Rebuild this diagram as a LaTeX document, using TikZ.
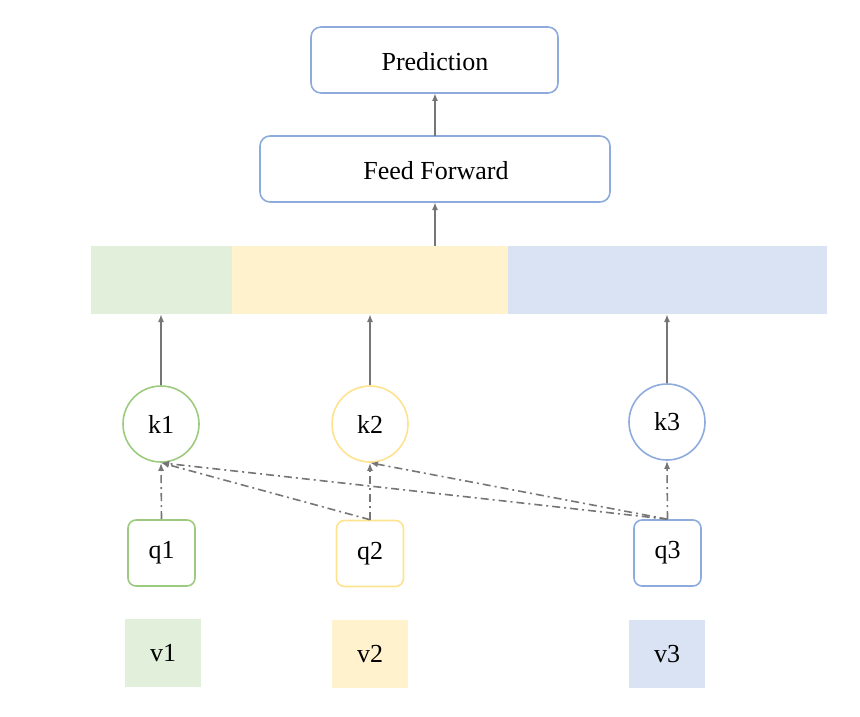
\documentclass[tikz,border=0pt]{standalone}
\usepackage{fontspec}
\setmainfont{Liberation Serif}
\usetikzlibrary{arrows.meta}
\definecolor{gfill}{HTML}{E2EFDA}
\definecolor{yfill}{HTML}{FFF2CC}
\definecolor{bfill}{HTML}{DAE3F3}
\definecolor{gline}{HTML}{9CCB7F}
\definecolor{yline}{HTML}{FFE28F}
\definecolor{bline}{HTML}{8EABDE}
\definecolor{arr}{HTML}{767676}
\begin{document}
\begin{tikzpicture}[x=1pt,y=-1pt,
  txt/.style={font=\fontsize{26}{30}\selectfont, inner sep=0pt},
  rbox/.style={draw=bline, line width=1.6pt, rounded corners=10pt},
  conn/.style={draw=arr, line width=1.6pt, -{Latex[length=8pt,width=6pt]}},
  dconn/.style={draw=arr, line width=1.6pt, dash pattern=on 8pt off 4pt on 2pt off 4pt, -{Latex[length=8pt,width=6pt]}},
  kcirc/.style={circle, line width=1.6pt, minimum size=76pt, inner sep=0pt, font=\fontsize{26}{30}\selectfont},
  qbox/.style={rounded corners=8pt, line width=1.6pt, minimum width=67pt, minimum height=66pt, inner sep=0pt, font=\fontsize{26}{30}\selectfont},
  vbox/.style={minimum width=76pt, minimum height=68pt, inner sep=0pt, font=\fontsize{26}{30}\selectfont}
]
\useasboundingbox (0,0) rectangle (860,717);
% top boxes
\draw[rbox] (311,27) rectangle (558,93);
\node[txt] (pred) at (435,62) {Prediction};
\coordinate (predB) at (435,93);
\draw[rbox] (260,136) rectangle (610,202);
\node[txt] (ff) at (436,171) {Feed Forward};
\coordinate (ffT) at (435,136);
\coordinate (ffB) at (435,202);
% bar
\fill[gfill] (91,246) rectangle (232,314);
\fill[yfill] (232,246) rectangle (508,314);
\fill[bfill] (508,246) rectangle (827,314);
\coordinate (barT) at (435,246);
\coordinate (bar1) at (161,314);
\coordinate (bar2) at (370,314);
\coordinate (bar3) at (667,314);
% k
\node[kcirc, draw=gline] (k1) at (161,424) {k1};
\node[kcirc, draw=yline] (k2) at (370,424) {k2};
\node[kcirc, draw=bline] (k3) at (667,422) {k3};
% q
\node[qbox, draw=gline] (q1) at (161.5,553) {q1};
\node[qbox, draw=yline] (q2) at (370,553.5) {q2};
\node[qbox, draw=bline] (q3) at (667.5,553) {q3};
% v
\node[vbox, fill=gfill] (v1) at (163,653) {v1};
\node[vbox, fill=yfill] (v2) at (370,654) {v2};
\node[vbox, fill=bfill] (v3) at (667,654) {v3};
% arrows
\draw[conn] (ffT) -- (predB);
\draw[conn] (barT) -- (ffB);
\draw[conn] (k1.north) -- (bar1);
\draw[conn] (k2.north) -- (bar2);
\draw[conn] (k3.north) -- (bar3);
\draw[dconn] (q1.north) -- (k1.south);
\draw[dconn] (q2.north) -- (k1.south);
\draw[dconn] (q2.north) -- (k2.south);
\draw[dconn] (q3.north) -- (k1.south);
\draw[dconn] (q3.north) -- (k2.south);
\draw[dconn] (q3.north) -- (k3.south);
\end{tikzpicture}
\end{document}
